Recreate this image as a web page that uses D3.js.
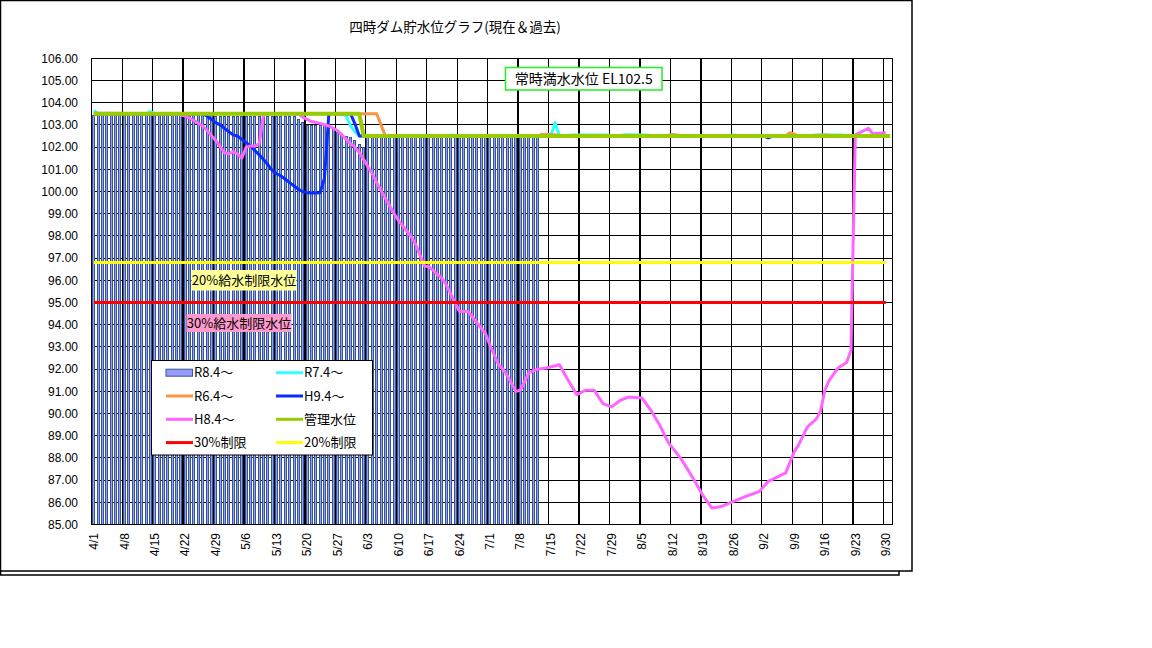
<!DOCTYPE html>
<html>
<head>
<meta charset="utf-8">
<script src="https://cdn.jsdelivr.net/npm/d3@7"></script>
<style>
  body { margin: 0; background: #fff; }
  svg { display: block; }
  text { font-family: "Noto Sans CJK JP", "Liberation Sans", sans-serif; }
  .num { font-family: "Liberation Sans", Arial, sans-serif; }
</style>
</head>
<body>
<div id="chart"></div>
<script>
// ---- data ----
const title = "四時ダム貯水位グラフ(現在＆過去)";
const yTicks = d3.range(85, 107, 1);
const xTickLabels = ["4/1","4/8","4/15","4/22","4/29","5/6","5/13","5/20","5/27","6/3","6/10","6/17","6/24",
  "7/1","7/8","7/15","7/22","7/29","8/5","8/12","8/19","8/26","9/2","9/9","9/16","9/23","9/30"];

// R8.4~ bars, daily from 4/1
const r8Values = [
  103.45,103.45,103.45,103.45,103.45,103.45,103.45,103.45,103.45,103.45,
  103.45,103.45,103.45,103.45,103.45,103.45,103.45,103.45,103.45,103.45,
  103.45,103.45,103.45,103.45,103.45,103.45,103.45,103.45,
  103.40,103.40,103.40,103.40,103.40,103.40,103.40,103.40,103.40,103.40,
  103.40,103.40,103.40,103.40,103.40,103.40,103.40,103.40,103.40,
  103.25,103.15,102.98,102.98,102.98,102.98,102.98,102.90,102.82,102.70,
  102.60,102.50,102.45,102.30,102.12,102.00,
  102.45,102.45,102.46,102.45,102.45,102.44,102.45,102.45,102.46,102.45,
  102.45,102.45,102.44,102.45,102.45,102.46,102.45,102.45,102.45,102.44,
  102.45,102.45,102.46,102.45,102.45,102.45,102.44,102.45,102.45,102.46,
  102.45,102.45,102.45,102.44,102.45,102.45,102.46,102.45,102.45,102.45
];

const r7Points = [["4/1",103.65],["4/2",103.5],["4/13",103.5],["4/14",103.6],["4/15",103.5],["5/28",103.5],
  ["5/29",103.4],["5/30",102.95],["5/31",102.7],["6/1",102.5],["6/21",102.5],["6/22",102.55],["6/25",102.5],
  ["7/15",102.5],["7/16",103.1],["7/17",102.5],["7/20",102.55],["7/28",102.55],["7/30",102.5],["8/1",102.56],
  ["8/6",102.55],["8/8",102.5],["8/24",102.5],["8/26",102.55],["8/28",102.5],["9/12",102.5],["9/14",102.55],
  ["9/20",102.55],["9/22",102.5],["9/30",102.5]];

const r6Points = [["4/1",103.45],["4/3",103.5],["6/5",103.5],["6/6",103.0],["6/7",102.5],["7/12",102.5],
  ["7/13",102.58],["7/16",102.56],["7/18",102.5],["8/10",102.5],["8/12",102.57],["8/15",102.5],["9/7",102.5],
  ["9/8",102.65],["9/10",102.5],["9/16",102.55],["9/20",102.5],["9/30",102.5]];

const h9Points = [["4/1",103.5],["4/26",103.5],["4/27",103.4],["4/28",103.25],["4/29",103.1],["4/30",103.0],
  ["5/1",102.85],["5/2",102.7],["5/3",102.55],["5/4",102.5],["5/5",102.35],["5/6",102.2],["5/7",102.05],
  ["5/8",101.85],["5/9",101.65],["5/10",101.45],["5/11",101.2],["5/12",100.95],["5/13",100.8],["5/14",100.7],
  ["5/15",100.55],["5/16",100.4],["5/17",100.25],["5/18",100.1],["5/19",100.0],["5/20",99.95],["5/21",99.93],
  ["5/22",99.93],["5/23",99.95],["5/24",100.6],["5/25",103.5],["5/30",103.5],["5/31",103.05],["6/1",102.5],
  ["9/2",102.5],["9/3",102.42],["9/4",102.5],["9/30",102.5]];

const h8Points = [["4/1",103.52],["4/20",103.5],["4/21",103.45],["4/22",103.4],["4/24",103.2],["4/26",102.95],
  ["4/27",102.75],["4/29",102.3],["5/1",101.75],["5/2",101.7],["5/3",101.8],["5/4",101.7],["5/5",101.5],
  ["5/6",102.0],["5/7",102.05],["5/8",102.05],["5/9",102.15],["5/10",103.5],["5/18",103.5],["5/19",103.35],
  ["5/20",103.25],["5/21",103.15],["5/23",103.07],["5/25",102.95],["5/26",102.85],["5/27",102.75],
  ["5/28",102.55],["5/29",102.35],["5/30",102.15],["5/31",102.0],["6/1",101.75],["6/2",101.45],["6/3",101.1],
  ["6/4",100.8],["6/5",100.4],["6/6",100.05],["6/7",99.7],["6/8",99.35],["6/9",99.0],["6/10",98.7],
  ["6/11",98.45],["6/12",98.2],["6/13",97.95],["6/14",97.6],["6/15",97.1],["6/16",96.65],["6/17",96.6],
  ["6/18",96.45],["6/19",96.25],["6/20",96.1],["6/21",95.8],["6/22",95.4],["6/23",95.0],["6/24",94.6],
  ["6/26",94.6],["6/28",94.1],["6/30",93.6],["7/1",93.1],["7/3",92.2],["7/4",92.0],["7/5",91.7],["7/7",91.0],
  ["7/8",91.05],["7/10",91.85],["7/12",92.0],["7/14",92.05],["7/17",92.2],["7/19",91.5],["7/21",90.85],
  ["7/23",91.05],["7/25",91.05],["7/27",90.45],["7/29",90.3],["7/31",90.6],["8/2",90.75],["8/5",90.7],
  ["8/7",90.15],["8/9",89.5],["8/11",88.7],["8/14",87.95],["8/17",87.0],["8/19",86.3],["8/21",85.75],
  ["8/23",85.8],["8/26",86.05],["8/29",86.28],["9/1",86.5],["9/3",86.95],["9/7",87.33],["9/9",88.3],
  ["9/10",88.6],["9/12",89.4],["9/14",89.75],["9/15",90.1],["9/16",91.05],["9/17",91.5],["9/19",92.05],
  ["9/21",92.3],["9/22",92.85],["9/23",102.55],["9/26",102.85],["9/27",102.6],["9/30",102.65]];

const mgmtPoints = [["4/1",103.5],["6/1",103.5],["6/2",102.5],["10/1",102.5]];
const limit30Points = [["4/1",95.0],["9/30",95.0]];
const limit20Points = [["4/1",96.8],["9/30",96.8]];

const legendItems = [
  { name: "R8.4〜", type: "bar", color: "#9999FF" },
  { name: "R7.4〜", type: "line", color: "#33FFFF" },
  { name: "R6.4〜", type: "line", color: "#F79646" },
  { name: "H9.4〜", type: "line", color: "#0A2DFF" },
  { name: "H8.4〜", type: "line", color: "#FF66FF" },
  { name: "管理水位", type: "line", color: "#99CC00" },
  { name: "30%制限", type: "line", color: "#FF0000" },
  { name: "20%制限", type: "line", color: "#FFFF00" }
];

// ---- categories: 4/1 .. 10/1 ----
const monthDays = [[4,30],[5,31],[6,30],[7,31],[8,31],[9,30],[10,1]];
const categories = [];
monthDays.forEach(([m, n]) => { for (let d = 1; d <= n; d++) categories.push(m + "/" + d); });

// ---- layout ----
const width = 1152, height = 648;
const plotL = 91.7, plotR = 892.3, plotT = 58.3, plotB = 524.6;
const barEdge = "#34598C";

const svg = d3.select("#chart").append("svg").attr("width", width).attr("height", height);

// chart frames
svg.append("rect").attr("x", 0.5).attr("y", 2.5).attr("width", 898.5).attr("height", 572.5)
  .attr("fill", "#fff").attr("stroke", "#000").attr("stroke-width", 1.5);
svg.append("rect").attr("x", 0.5).attr("y", 0.5).attr("width", 911.5).attr("height", 570.5)
  .attr("fill", "#fff").attr("stroke", "#000").attr("stroke-width", 1.5);

const x = d3.scaleBand().domain(categories).range([plotL, plotR]).padding(0);
const y = d3.scaleLinear().domain([85, 106]).range([plotB, plotT]);
const bw = x.bandwidth();
const cx = d => x(d) + bw / 2;

// title
svg.append("text").attr("x", 455).attr("y", 32).attr("text-anchor", "middle")
  .attr("font-size", 13.5).text(title);

// grid
const grid = svg.append("g").attr("shape-rendering", "crispEdges");
grid.selectAll("line.h").data(yTicks).join("line")
  .attr("x1", plotL).attr("x2", plotR).attr("y1", d => y(d)).attr("y2", d => y(d))
  .attr("stroke", "#000").attr("stroke-width", 1);
grid.selectAll("line.v").data(xTickLabels).join("line")
  .attr("x1", d => x(d)).attr("x2", d => x(d)).attr("y1", plotT).attr("y2", plotB)
  .attr("stroke", "#000").attr("stroke-width", 1.3);

// bars: thin outlined columns with crisp edges
svg.append("g").attr("shape-rendering", "crispEdges").selectAll("rect").data(r8Values).join("rect")
  .attr("x", (d, i) => Math.round(cx(categories[i]) - 1.5) + 0.5)
  .attr("y", d => Math.round(y(d)) + 0.5)
  .attr("width", 2)
  .attr("height", d => plotB - Math.round(y(d)) - 0.5)
  .attr("fill", "#9999FF").attr("stroke", barEdge).attr("stroke-width", 1);

svg.append("rect").attr("x", plotL).attr("y", plotT).attr("width", plotR - plotL).attr("height", plotB - plotT)
  .attr("fill", "none").attr("stroke", "#000").attr("stroke-width", 1.3).attr("shape-rendering", "crispEdges");

// axis labels
svg.append("g").selectAll("text").data(yTicks).join("text")
  .attr("class", "num").attr("x", 78).attr("y", d => y(d)).attr("dy", "0.35em")
  .attr("text-anchor", "end").attr("font-size", 12).text(d => d.toFixed(2));
svg.append("g").selectAll("text").data(xTickLabels).join("text")
  .attr("class", "num")
  .attr("transform", d => `translate(${cx(d)},533) rotate(-90)`)
  .attr("dy", "0.35em").attr("text-anchor", "end").attr("font-size", 12).text(d => d);

// lines
const line = d3.line().x(p => cx(p[0])).y(p => y(p[1]));
const series = [
  [r7Points, "#33FFFF", 3],
  [r6Points, "#F79646", 3],
  [h9Points, "#0A2DFF", 3],
  [h8Points, "#FF66FF", 3],
  [mgmtPoints, "#99CC00", 4],
  [limit30Points, "#FF0000", 3],
  [limit20Points, "#FFFF00", 3]
];
series.forEach(([pts, color, w]) => {
  svg.append("path").datum(pts).attr("d", line)
    .attr("fill", "none").attr("stroke", color).attr("stroke-width", w)
    .attr("stroke-linejoin", "round");
});

// annotations
function note(x0, y0, w, h, text, fill, stroke, size) {
  svg.append("rect").attr("x", x0).attr("y", y0).attr("width", w).attr("height", h)
    .attr("fill", fill).attr("stroke", stroke || "none").attr("stroke-width", 1.5);
  svg.append("text").attr("x", x0 + w / 2).attr("y", y0 + h / 2).attr("dy", "0.36em")
    .attr("text-anchor", "middle").attr("font-size", size).text(text);
}
note(505.5, 67.5, 156.5, 22.5, "常時満水水位 EL102.5", "#fff", "#22EE22", 14);
note(191.5, 270, 105, 20.5, "20%給水制限水位", "#FFFF99", null, 13);
note(186.5, 314, 105, 18, "30%給水制限水位", "#FF99CC", null, 13);

// legend
const lg = svg.append("g");
lg.append("rect").attr("x", 151.5).attr("y", 360.5).attr("width", 221).attr("height", 94.5)
  .attr("fill", "#fff").attr("stroke", "#000").attr("stroke-width", 1);
legendItems.forEach((it, i) => {
  const col = i % 2, row = Math.floor(i / 2);
  const sx = col === 0 ? 166 : 276;
  const yy = 372.7 + row * 23.3;
  if (it.type === "bar") {
    lg.append("rect").attr("x", sx).attr("y", yy - 3.5).attr("width", 26.5).attr("height", 7)
      .attr("fill", it.color).attr("stroke", barEdge).attr("stroke-width", 1);
  } else {
    lg.append("line").attr("x1", sx).attr("x2", sx + 27).attr("y1", yy).attr("y2", yy)
      .attr("stroke", it.color).attr("stroke-width", 3);
  }
  lg.append("text").attr("x", sx + 28).attr("y", yy).attr("dy", "0.36em")
    .attr("font-size", 13).text(it.name);
});
</script>
</body>
</html>
